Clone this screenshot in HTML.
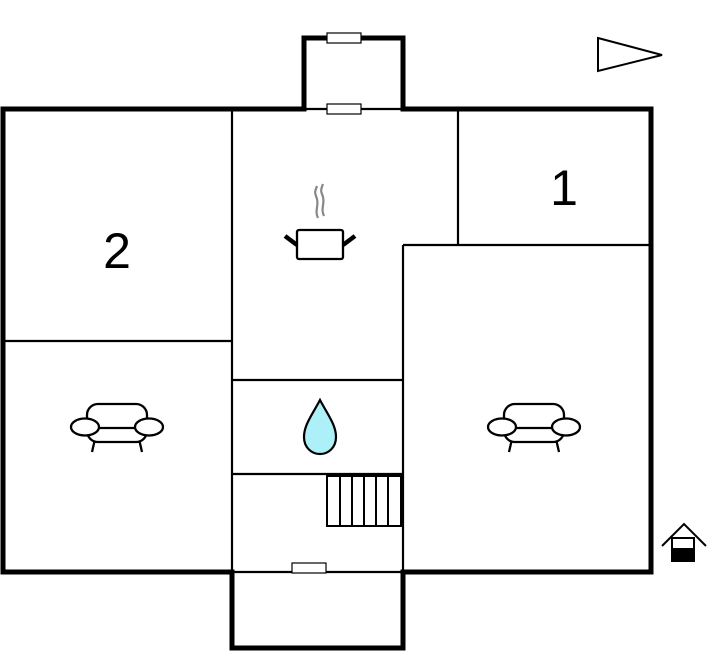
<!DOCTYPE html>
<html><head><meta charset="utf-8"><style>body{margin:0;background:#fff}svg{display:block}</style></head><body>
<svg width="715" height="652" viewBox="0 0 715 652" xmlns="http://www.w3.org/2000/svg">
<defs>
<g id="sofa" fill="#fff" stroke="#000" stroke-width="2.3">
<path d="M-22 16 L-25 29 M22 16 L25 29"/>
<rect x="-30" y="-19" width="60" height="38" rx="11"/>
<line x1="-30" y1="5" x2="30" y2="5"/>
<ellipse cx="-32" cy="4" rx="14" ry="8.5"/>
<ellipse cx="32" cy="4" rx="14" ry="8.5"/>
</g>
</defs>
<g stroke="#000" fill="none">
<g stroke-width="2.2">
<line x1="232" y1="109" x2="232" y2="572"/>
<line x1="3" y1="341" x2="232" y2="341"/>
<line x1="458" y1="109" x2="458" y2="245"/>
<line x1="403" y1="245" x2="651" y2="245"/>
<line x1="403" y1="245" x2="403" y2="572"/>
<line x1="232" y1="380" x2="403" y2="380"/>
<line x1="232" y1="474" x2="403" y2="474"/>
<line x1="232" y1="572" x2="403" y2="572"/>
<line x1="304" y1="109" x2="403" y2="109"/>
</g>
<path stroke-width="5" d="M304 109 L3 109 L3 572 L232 572 L232 648 L403 648 L403 572 L651 572 L651 109 L403 109 L403 38 L304 38 Z"/>
</g>
<g fill="#fff" stroke="#000" stroke-width="1.2">
<rect x="327" y="33" width="34" height="10"/>
<rect x="327" y="104" width="34" height="10"/>
<rect x="292" y="563" width="34" height="10"/>
</g>
<g stroke="#000" stroke-width="2" fill="none">
<rect x="327" y="476" width="74" height="50"/>
<line x1="340" y1="476" x2="340" y2="526"/>
<line x1="352" y1="476" x2="352" y2="526"/>
<line x1="364" y1="476" x2="364" y2="526"/>
<line x1="376" y1="476" x2="376" y2="526"/>
<line x1="388" y1="476" x2="388" y2="526"/>
</g>
<path d="M320 400 C312 415 304 425 304 437 C304 448 312 454 320 454 C328 454 336 448 336 437 C336 425 328 415 320 400 Z" fill="#aef0f8" stroke="#000" stroke-width="2.2"/>
<g stroke="#000" fill="none">
<rect x="297" y="230" width="46" height="29" rx="2" fill="#fff" stroke-width="2.3"/>
<line x1="285" y1="236" x2="297" y2="245" stroke-width="4.5"/>
<line x1="355" y1="236" x2="343" y2="245" stroke-width="4.5"/>
<path d="M318 218 C314 210 320 205 316 196 C314 192 316 189 317 186 M324 216 C320 208 326 203 322 194 C320 190 322 187 323 184" stroke="#888" stroke-width="2.2"/>
</g>
<use href="#sofa" x="117" y="423"/>
<use href="#sofa" x="534" y="423"/>
<text x="117" y="268" font-family="Liberation Sans, sans-serif" font-size="50" text-anchor="middle">2</text>
<text x="564" y="205" font-family="Liberation Sans, sans-serif" font-size="50" text-anchor="middle">1</text>
<polygon points="598,38 662,55 598,71" fill="#fff" stroke="#000" stroke-width="2"/>
<g stroke="#000" fill="none" stroke-width="2">
<polyline points="662,546 684,524 706,546"/>
<rect x="672" y="538" width="22" height="23"/>
</g>
<rect x="672" y="548" width="22" height="13" fill="#000"/>
</svg>
</body></html>
